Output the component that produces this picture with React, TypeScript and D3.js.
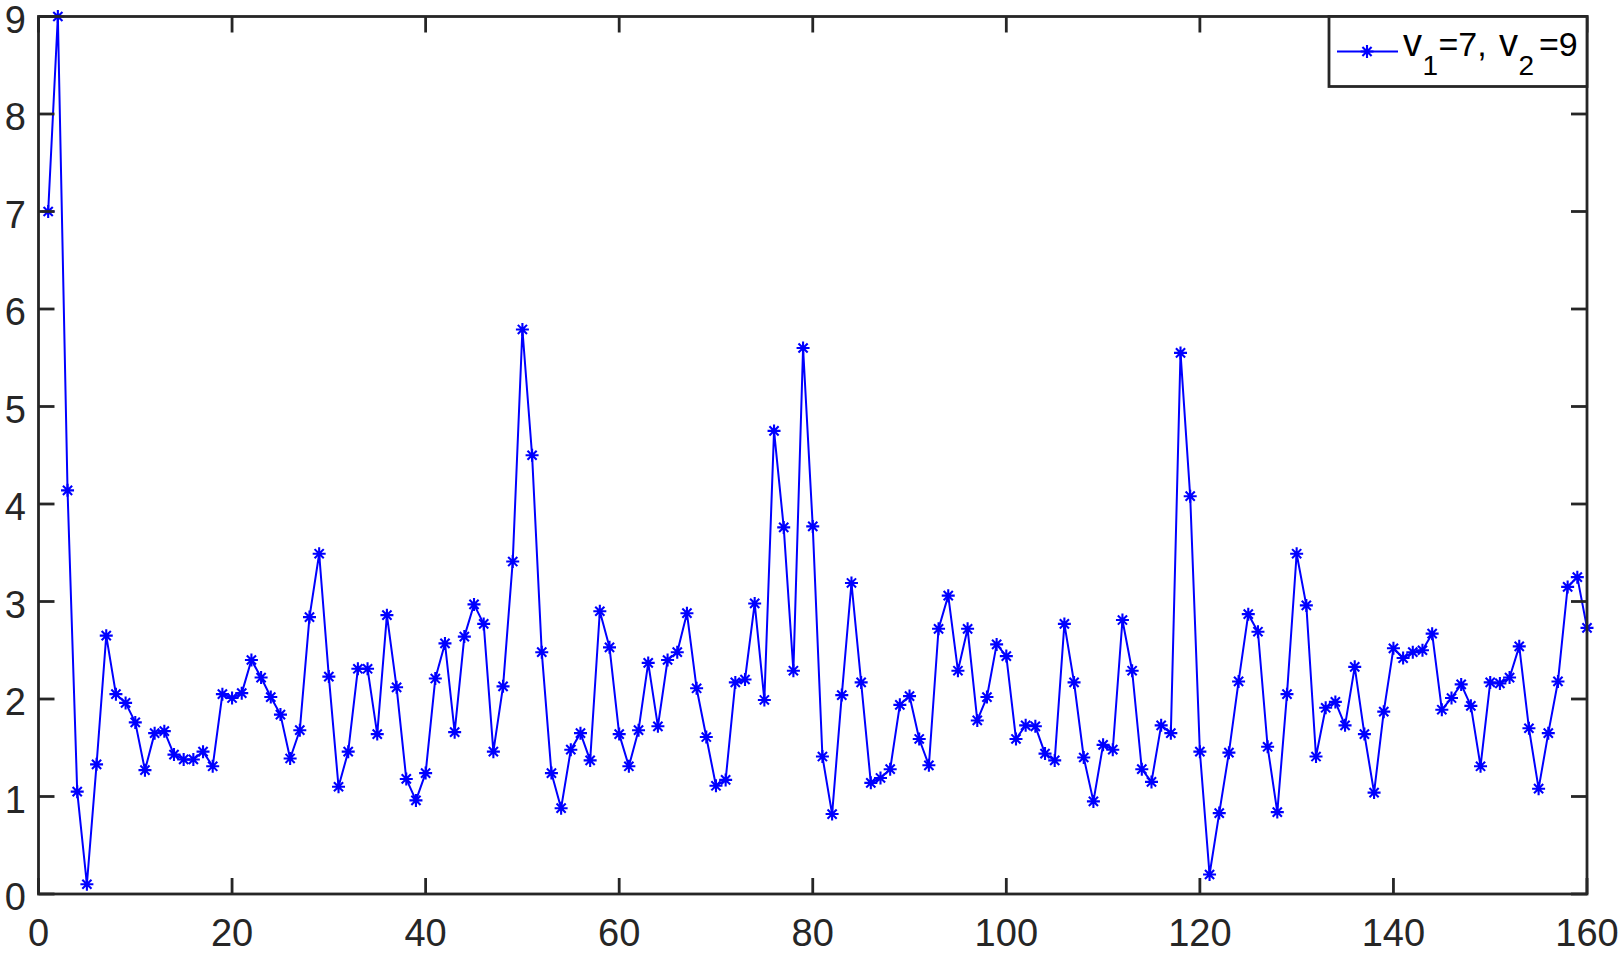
import React from "react";
import * as d3 from "d3";

const values: number[] = [
  7.0, 9.0, 4.14, 1.05, 0.1, 1.33, 2.65, 2.05, 1.96, 1.76,
  1.27, 1.65, 1.67, 1.43, 1.38, 1.38, 1.46, 1.31, 2.05, 2.01,
  2.06, 2.4, 2.22, 2.02, 1.84, 1.39, 1.68, 2.84, 3.49, 2.23,
  1.1, 1.46, 2.31, 2.31, 1.64, 2.86, 2.12, 1.18, 0.96, 1.24,
  2.21, 2.57, 1.66, 2.64, 2.97, 2.77, 1.46, 2.13, 3.41, 5.79,
  4.5, 2.48, 1.24, 0.88, 1.48, 1.65, 1.37, 2.9, 2.53, 1.64,
  1.31, 1.68, 2.37, 1.72, 2.4, 2.48, 2.88, 2.11, 1.61, 1.11,
  1.17, 2.17, 2.2, 2.98, 1.99, 4.75, 3.76, 2.29, 5.6, 3.77,
  1.41, 0.82, 2.04, 3.19, 2.17, 1.14, 1.19, 1.28, 1.94, 2.03,
  1.59, 1.32, 2.72, 3.06, 2.29, 2.72, 1.78, 2.02, 2.56, 2.44,
  1.59, 1.73, 1.72, 1.44, 1.37, 2.77, 2.17, 1.4, 0.95, 1.53,
  1.48, 2.81, 2.29, 1.28, 1.15, 1.73, 1.65, 5.55, 4.08, 1.46,
  0.2, 0.83, 1.45, 2.18, 2.87, 2.69, 1.51, 0.84, 2.05, 3.49,
  2.96, 1.41, 1.91, 1.97, 1.73, 2.33, 1.64, 1.04, 1.87, 2.52,
  2.42, 2.48, 2.5, 2.67, 1.89, 2.01, 2.15, 1.93, 1.31, 2.17,
  2.16, 2.22, 2.54, 1.7, 1.08, 1.65, 2.18, 3.15, 3.25, 2.73,
];

const xTicks: number[] = [0, 20, 40, 60, 80, 100, 120, 140, 160];
const yTicks: number[] = [0, 1, 2, 3, 4, 5, 6, 7, 8, 9];

const W = 1623;
const H = 953;
const left = 38.5;
const right = 1587;
const top = 16.5;
const bottom = 894;
const axisColor = "#262626";
const blue = "#0000ff";
const font = "'Liberation Sans', Arial, Helvetica, sans-serif";
const tickLen = 16;
const axisW = 2.8;

function Asterisk({ x, y, r = 6.5 }: { x: number; y: number; r?: number }) {
  const d = r * 0.707;
  const p = `M${-r},0H${r}M0,${-r}V${r}M${-d},${-d}L${d},${d}M${-d},${d}L${d},${-d}`;
  return <path d={p} transform={`translate(${x},${y})`} stroke={blue} strokeWidth={2.1} fill="none" />;
}

export default function App() {
  const x = d3.scaleLinear().domain([0, 160]).range([left, right]);
  const y = d3.scaleLinear().domain([0, 9]).range([bottom, top]);
  const pts = values.map((v, i) => ({ xv: i + 1, yv: v }));
  const line = d3
    .line<{ xv: number; yv: number }>()
    .x((d) => x(d.xv))
    .y((d) => y(d.yv));

  const lgX = 1329;
  const lgY = top;
  const lgW = right - lgX;
  const lgH = 70;
  const lgMid = lgY + 35;
  const base = lgY + 39;
  const sub = lgY + 58.5;

  return (
    <svg
      width={W}
      height={H}
      style={{ position: "absolute", left: 0, top: 0, background: "#fff" }}
      fontFamily={font}
    >
      <rect x={0} y={0} width={W} height={H} fill="#fff" />
      <path d={line(pts) || ""} fill="none" stroke={blue} strokeWidth={2} strokeLinejoin="round" />
      {pts.map((p, i) => (
        <Asterisk key={i} x={x(p.xv)} y={y(p.yv)} />
      ))}

      {/* ticks */}
      {xTicks.map((t) => (
        <g key={"xt" + t}>
          <line x1={x(t)} x2={x(t)} y1={bottom} y2={bottom - tickLen} stroke={axisColor} strokeWidth={axisW} />
          <line x1={x(t)} x2={x(t)} y1={top} y2={top + tickLen} stroke={axisColor} strokeWidth={axisW} />
          <text x={x(t)} y={946} textAnchor="middle" fontSize={38} fill={axisColor}>
            {t}
          </text>
        </g>
      ))}
      {yTicks.map((t) => (
        <g key={"yt" + t}>
          <line x1={left} x2={left + tickLen} y1={y(t)} y2={y(t)} stroke={axisColor} strokeWidth={axisW} />
          <line x1={right} x2={right - tickLen} y1={y(t)} y2={y(t)} stroke={axisColor} strokeWidth={axisW} />
          <text x={26} y={y(t) + 16} textAnchor="end" fontSize={38} fill={axisColor}>
            {t}
          </text>
        </g>
      ))}

      {/* axes box */}
      <rect
        x={left}
        y={top}
        width={right - left}
        height={bottom - top}
        fill="none"
        stroke={axisColor}
        strokeWidth={axisW}
      />

      {/* legend */}
      <rect x={lgX} y={lgY} width={lgW} height={lgH} fill="#fff" stroke={axisColor} strokeWidth={axisW} />
      <line x1={lgX + 8} x2={lgX + 69} y1={lgMid} y2={lgMid} stroke={blue} strokeWidth={2} />
      <Asterisk x={lgX + 38} y={lgMid} />
      <text fill="#000" fontSize={34}>
        <tspan x={lgX + 74} y={base} fontSize={38}>v</tspan>
        <tspan x={lgX + 93.5} y={sub} fontSize={28}>1</tspan>
        <tspan x={lgX + 109.5} y={base}>=7,</tspan>
        <tspan x={lgX + 170} y={base} fontSize={38}>v</tspan>
        <tspan x={lgX + 189.5} y={sub} fontSize={28}>2</tspan>
        <tspan x={lgX + 210} y={base}>=9</tspan>
      </text>
    </svg>
  );
}
